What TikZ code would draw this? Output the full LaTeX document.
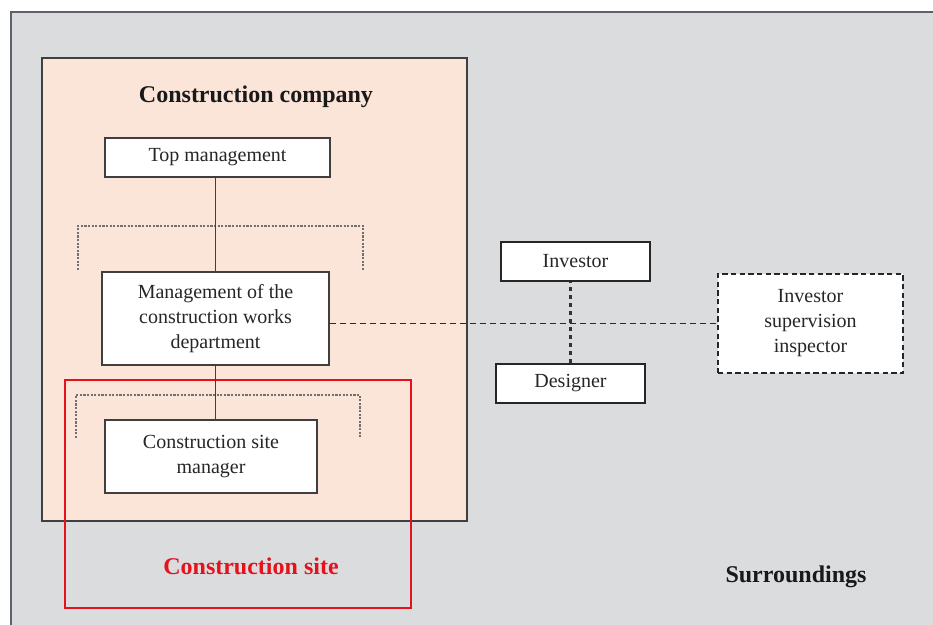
\documentclass[tikz,border=0pt]{standalone}
\usepackage{fontspec}
\setmainfont{Liberation Serif}
\definecolor{bggray}{HTML}{DADCDE}
\definecolor{outerline}{HTML}{5E6266}
\definecolor{peach}{HTML}{FBE4D8}
\definecolor{boxline}{HTML}{3F3F3F}
\definecolor{sitered}{HTML}{E5121C}
\definecolor{navy}{HTML}{1E2A48}
\definecolor{dotgray}{HTML}{707070}
\tikzset{
  box/.style={draw=boxline, line width=1pt, fill=white, inner sep=0pt, align=center,
    font=\fontsize{15}{18.75}\selectfont, text=black!85},
  dbox/.style={box, draw=black!85, line width=1.3pt, dash pattern=on 4pt off 2.5pt},
  strongbox/.style={box, draw=black!85, line width=1.4pt},
  bracket/.style={draw=dotgray, line width=0.8pt, dash pattern=on 1.6pt off 1.1pt},
  link/.style={draw=boxline, line width=0.9pt},
  hdash/.style={draw=navy, line width=1.25pt, dash pattern=on 4.5pt off 3pt},
  vdash/.style={draw=black!80, line width=1.6pt, dash pattern=on 3pt off 3pt},
  title/.style={font=\fontsize{18}{21}\selectfont\bfseries, text=black!90},
  wh/.style 2 args={minimum width={#1*0.75pt}, minimum height={#2*0.75pt}},
}
\begin{document}
\begin{tikzpicture}[x=0.75pt,y=-0.75pt]
\useasboundingbox (0,0) rectangle (933,625);
\fill[white] (0,0) rectangle (933,625);
% surroundings
\fill[bggray] (11,12) rectangle (940,632);
\draw[outerline, line width=1.3pt] (11,640) -- (11,12) -- (940,12);
% construction company
\filldraw[fill=peach, draw=boxline, line width=1.3pt] (42,58) rectangle (467,521);
\node[title] (cctitle) at (256,97) {Construction company};
% brackets
\draw[bracket] (78,270) -- (78,226) -- (363,226) -- (363,270);
\draw[bracket] (76,438) -- (76,395) -- (360,395) -- (360,438);
% boxes
\node[box, wh={225}{39}] (top) at (217.5,157.5) {Top management};
\node[box, wh={227}{93}] (mgmt) at (215.5,318.5) {Management of the\\construction works\\department};
\node[box, wh={212}{73}] (mgr) at (211,456.5) {Construction site\\manager};
\node[strongbox, wh={149}{39}] (inv) at (575.5,261.5) {Investor};
\node[strongbox, wh={149}{39}] (des) at (570.5,383.5) {Designer};
\node[dbox, wh={185}{99}] (insp) at (810.5,323.5) {Investor\\supervision\\inspector};
% construction site frame
\draw[sitered, line width=1.3pt] (65,380) rectangle (411,608);
\node[title, text=sitered] (sitelbl) at (251,566) {Construction site};
\node[title] (surr) at (796,577) {Surroundings};
% connectors
\draw[link] (mgmt.north) -- (mgmt.north |- top.south);
\draw[link] (mgmt.south) -- (mgmt.south |- mgr.north);
\draw[hdash] (mgmt.east |- insp.west) -- (insp.west);
\draw[vdash] (des.north) -- (des.north |- inv.south);
\end{tikzpicture}
\end{document}
